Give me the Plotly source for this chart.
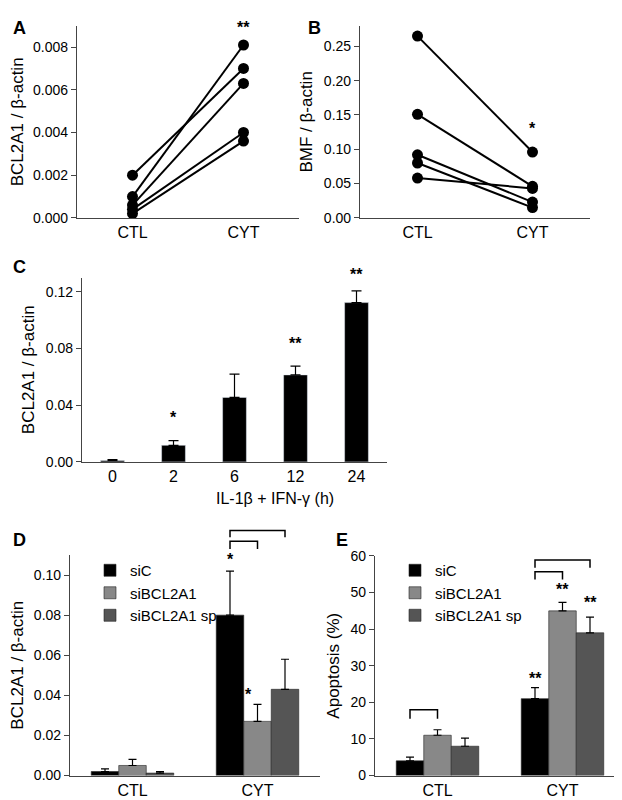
import plotly.graph_objects as go

W, H = 622, 800

# Panel A: BCL2A1 paired CTL -> CYT
a_ctl = [0.0020, 0.0010, 0.0006, 0.0004, 0.0002]
a_cyt = [0.0070, 0.0081, 0.0063, 0.0040, 0.0036]
# Panel B: BMF paired CTL -> CYT
b_ctl = [0.265, 0.151, 0.092, 0.080, 0.058]
b_cyt = [0.096, 0.046, 0.023, 0.015, 0.043]
# Panel C: time course
c_cats = ["0", "2", "6", "12", "24"]
c_vals = [0.001, 0.0117, 0.0455, 0.0614, 0.1124]
c_errs = [0.0006, 0.0033, 0.0165, 0.0062, 0.0083]
# Panel D / E
groups = ["CTL", "CYT"]
series = ["siC", "siBCL2A1", "siBCL2A1 sp"]
colors = ["#000000", "#888888", "#555555"]
d_vals = [[0.002, 0.080], [0.005, 0.027], [0.0012, 0.043]]
d_errs = [[0.0013, 0.022], [0.003, 0.0085], [0.0007, 0.015]]
e_vals = [[4.0, 21.0], [11.0, 45.0], [8.0, 39.0]]
e_errs = [[1.0, 3.0], [1.5, 2.3], [2.2, 4.3]]


def px(x):
    return x / W


def py(y):
    return 1 - y / H


FONT = "Liberation Sans, Arial"
fig = go.Figure()

# A
for i in range(len(a_ctl)):
    fig.add_trace(go.Scatter(x=[0, 1], y=[a_ctl[i], a_cyt[i]], mode="lines+markers",
                             line=dict(color="black", width=2), marker=dict(size=11, color="black"),
                             showlegend=False, xaxis="x", yaxis="y"))
# B
for i in range(len(b_ctl)):
    fig.add_trace(go.Scatter(x=[0, 1], y=[b_ctl[i], b_cyt[i]], mode="lines+markers",
                             line=dict(color="black", width=2), marker=dict(size=11, color="black"),
                             showlegend=False, xaxis="x2", yaxis="y2"))
# C
fig.add_trace(go.Bar(x=c_cats, y=c_vals, marker=dict(color="black"), width=0.39,
                     error_y=dict(type="data", array=c_errs, symmetric=False, arrayminus=[0] * 5,
                                  color="black", thickness=1.2, width=5),
                     showlegend=False, xaxis="x3", yaxis="y3"))
# D and E
for k in range(3):
    fig.add_trace(go.Bar(x=groups, y=d_vals[k], name=series[k],
                         marker=dict(color=colors[k], line=dict(color="#222", width=0.6)),
                         error_y=dict(type="data", array=d_errs[k], symmetric=False, arrayminus=[0, 0],
                                      color="black", thickness=1.2, width=4),
                         legend="legend", xaxis="x4", yaxis="y4"))
for k in range(3):
    fig.add_trace(go.Bar(x=groups, y=e_vals[k], name=series[k],
                         marker=dict(color=colors[k], line=dict(color="#222", width=0.6)),
                         error_y=dict(type="data", array=e_errs[k], symmetric=False, arrayminus=[0, 0],
                                      color="black", thickness=1.2, width=4),
                         legend="legend2", xaxis="x5", yaxis="y5"))

xbase = dict(showline=True, linecolor="#444", linewidth=1.2, ticks="", showgrid=False, zeroline=False,
             tickfont=dict(size=16, color="black"))
ybase = dict(showline=True, linecolor="#444", linewidth=1.2, ticks="outside", ticklen=5, tickcolor="#444",
             showgrid=False, zeroline=False, tickfont=dict(size=14, color="black"),
             title_font=dict(size=17, color="black"))

fig.update_layout(
    width=W, height=H, margin=dict(l=0, r=0, t=0, b=0), autosize=False,
    plot_bgcolor="white", paper_bgcolor="white", font=dict(family=FONT, color="black"),
    barmode="group", bargap=0.34, bargroupgap=0,
    xaxis=dict(xbase, domain=[px(69), px(291)], anchor="y", range=[-0.5, 1.5],
               tickvals=[0, 1], ticktext=["CTL", "CYT"]),
    yaxis=dict(ybase, domain=[py(206), py(10)], anchor="x", range=[0, 0.009],
               tickvals=[0, 0.002, 0.004, 0.006, 0.008], tickformat=".3f",
               title=dict(text="BCL2A1 / β-actin", standoff=6)),
    xaxis2=dict(xbase, domain=[px(352), px(582)], anchor="y2", range=[-0.5, 1.5],
                tickvals=[0, 1], ticktext=["CTL", "CYT"]),
    yaxis2=dict(ybase, domain=[py(206), py(10)], anchor="x2", range=[0, 0.28],
                tickvals=[0, 0.05, 0.1, 0.15, 0.2, 0.25], tickformat=".2f",
                title=dict(text="BMF / β-actin", standoff=6)),
    xaxis3=dict(xbase, domain=[px(74), px(379)], anchor="y3", type="category"),
    yaxis3=dict(ybase, domain=[py(455), py(267)], anchor="x3", range=[0, 0.13],
                tickvals=[0, 0.04, 0.08, 0.12], tickformat=".2f",
                title=dict(text="BCL2A1 / β-actin", standoff=6)),
    xaxis4=dict(xbase, domain=[px(62), px(312)], anchor="y4", type="category"),
    yaxis4=dict(ybase, domain=[py(775), py(550)], anchor="x4", range=[0, 0.11],
                tickvals=[0, 0.02, 0.04, 0.06, 0.08, 0.1], tickformat=".2f",
                title=dict(text="BCL2A1 / β-actin", standoff=6)),
    xaxis5=dict(xbase, domain=[px(367), px(617)], anchor="y5", type="category"),
    yaxis5=dict(ybase, domain=[py(775), py(551)], anchor="x5", range=[0, 60],
                tickvals=[0, 10, 20, 30, 40, 50, 60],
                title=dict(text="Apoptosis (%)", standoff=6)),
    legend=dict(x=px(82), y=py(549), xanchor="left", yanchor="top", bgcolor="rgba(0,0,0,0)",
                font=dict(size=15), itemwidth=30, tracegroupgap=0),
    legend2=dict(x=px(387), y=py(549), xanchor="left", yanchor="top", bgcolor="rgba(0,0,0,0)",
                 font=dict(size=15), itemwidth=30, tracegroupgap=0),
)


def note(text, x, y, size=16, bold=False, anchor="center"):
    fig.add_annotation(text=f"<b>{text}</b>" if bold else text, x=px(x), y=py(y), xref="paper", yref="paper",
                       showarrow=False, font=dict(size=size, color="black"), xanchor=anchor, yanchor="middle")


def star(text, xr, x, y):
    fig.add_annotation(text=f"<b>{text}</b>", x=x, y=py(y), xref=xr, yref="paper",
                       showarrow=False, font=dict(size=16, color="black"), yanchor="middle")


# panel letters
note("A", 3, 12, 18, True, "left")
note("B", 298, 12, 18, True, "left")
note("C", 3, 256, 18, True, "left")
note("D", 3, 535, 18, True, "left")
note("E", 326, 535, 18, True, "left")
note("IL-1β + IFN-γ (h)", 267, 492, 16)

off = 0.66 / 3
# stars
star("**", "x", 1, 12)
star("*", "x2", 1, 115)
star("*", "x3", 1, 410)
star("**", "x3", 3, 334)
star("**", "x3", 4, 264)
star("*", "x4", 1 - off, 555)
star("*", "x4", 1 - off / 2 + 0.04, 692)
star("**", "x5", 1 - off, 676)
star("**", "x5", 1, 585)
star("**", "x5", 1 + off, 598)

# brackets: (xref, x0, x1, ytop px, ydrop px)
brackets = [
    ("x4", 1 - off, 1 + off, 525, 532),
    ("x4", 1 - off, 1, 536, 544),
    ("x5", 1 - off, 1 + off, 555, 563),
    ("x5", 1 - off, 1, 567, 575),
    ("x5", 0 - off, 0, 708, 717),
]
for xr, x0, x1, yt, yb in brackets:
    fig.add_shape(type="path", xref=xr, yref="paper",
                  path=f"M {x0},{py(yb)} L {x0},{py(yt)} L {x1},{py(yt)} L {x1},{py(yb)}",
                  line=dict(color="black", width=1.5))

fig.write_html("out.html")
